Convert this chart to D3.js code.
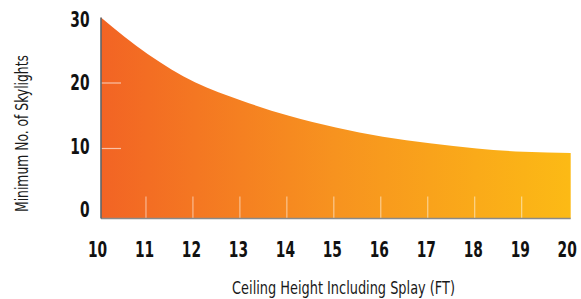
<!DOCTYPE html>
<html><head><meta charset="utf-8">
<script src="https://cdn.jsdelivr.net/npm/d3@7"></script>
<style>html,body{margin:0;padding:0;background:#fff;}svg{display:block;}</style>
</head><body>
<svg id="chart" width="581" height="299"></svg>
<script>
const heights = [10, 11, 12, 13, 14, 15, 16, 17, 18, 19, 20];
const skylights = [30, 24.4, 20.1, 17.3, 15.0, 13.2, 11.8, 10.8, 10.0, 9.5, 9.3];
const yTicks = [0, 10, 20, 30];
const xTitle = "Ceiling Height Including Splay (FT)";
const yTitle = "Minimum No. of Skylights";

const svg = d3.select("#chart");
const x = d3.scaleLinear().domain([10, 20]).range([101, 570.7]);
const y = d3.scaleLinear().domain([0, 30]).range([214, 17.5]);
const yLab = d3.scaleLinear().domain([0, 30]).range([209.7, 19.5]);
const baseY = 218.5;

const defs = svg.append("defs");
const grad = defs.append("linearGradient").attr("id", "g")
  .attr("gradientUnits", "userSpaceOnUse")
  .attr("x1", x(10)).attr("x2", x(20)).attr("y1", 0).attr("y2", 0);
grad.append("stop").attr("offset", 0).attr("stop-color", "#f26424");
grad.append("stop").attr("offset", 0.5).attr("stop-color", "#f7931f");
grad.append("stop").attr("offset", 1).attr("stop-color", "#fcba15");

const data = heights.map((h, i) => ({h, v: skylights[i]}));
const area = d3.area().x(d => x(d.h)).y0(baseY).y1(d => y(d.v)).curve(d3.curveMonotoneX);
svg.append("path").datum(data).attr("d", area).attr("fill", "url(#g)");

// white inner ticks
const xInner = heights.slice(1, -1);
svg.append("g").selectAll("line").data(xInner).join("line")
  .attr("x1", d => x(d) - 2).attr("x2", d => x(d) - 2)
  .attr("y1", baseY - 22).attr("y2", baseY)
  .attr("stroke", "#fff").attr("stroke-opacity", 0.6).attr("stroke-width", 1);
svg.append("g").selectAll("line").data(yTicks.slice(1, 3)).join("line")
  .attr("x1", x(10)).attr("x2", x(10) + 20)
  .attr("y1", d => y(d)).attr("y2", d => y(d))
  .attr("stroke", "#fff").attr("stroke-opacity", 0.6).attr("stroke-width", 1.2);

// axis lines
svg.append("line").attr("x1", x(10)).attr("x2", x(20)).attr("y1", baseY).attr("y2", baseY)
  .attr("stroke", "#8a8a8a").attr("stroke-width", 1.3);
svg.append("line").attr("x1", x(10)).attr("x2", x(10)).attr("y1", y(30)).attr("y2", baseY)
  .attr("stroke", "#5e666b").attr("stroke-width", 1.6);

const numFont = "'DejaVu Sans Condensed', 'Liberation Sans Narrow', sans-serif";
const digitW = 9.6;

function squeezed(sel, targetW) {
  sel.each(function(d) {
    const t = d3.select(this).select("text");
    const w = t.node().getComputedTextLength();
    const sx = targetW(d) / w;
    t.attr("transform", `scale(${sx},1)`);
  });
}

// x labels
const xl = svg.append("g").selectAll("g").data(heights).join("g")
  .attr("transform", d => `translate(${x(d) - 3.5},257.3)`);
xl.append("text").attr("text-anchor", "middle")
  .style("font-family", numFont).style("font-weight", "bold").style("font-size", "21px")
  .attr("fill", "#111").text(d => d);
squeezed(xl, d => String(d).length * digitW);

// y labels
const yl = svg.append("g").selectAll("g").data(yTicks).join("g")
  .attr("transform", d => `translate(89.5,${yLab(d)})`);
yl.append("text").attr("text-anchor", "end").attr("dy", "0.36em")
  .style("font-family", numFont).style("font-weight", "bold").style("font-size", "21px")
  .attr("fill", "#111").text(d => d);
squeezed(yl, d => String(d).length * digitW);

// titles
const xtg = svg.append("g").datum(xTitle).attr("transform", "translate(343.5,294)");
xtg.append("text").attr("text-anchor", "middle")
  .style("font-family", numFont).style("font-size", "18.5px")
  .attr("fill", "#1a1a1a").text(xTitle);
squeezed(xtg, () => 223);

const ytg = svg.append("g").datum(yTitle).attr("transform", "translate(27.5,133.5) rotate(-90)");
ytg.append("text").attr("text-anchor", "middle")
  .style("font-family", numFont).style("font-size", "17.5px")
  .attr("fill", "#1a1a1a").text(yTitle);
squeezed(ytg, () => 157);
</script>
</body></html>
